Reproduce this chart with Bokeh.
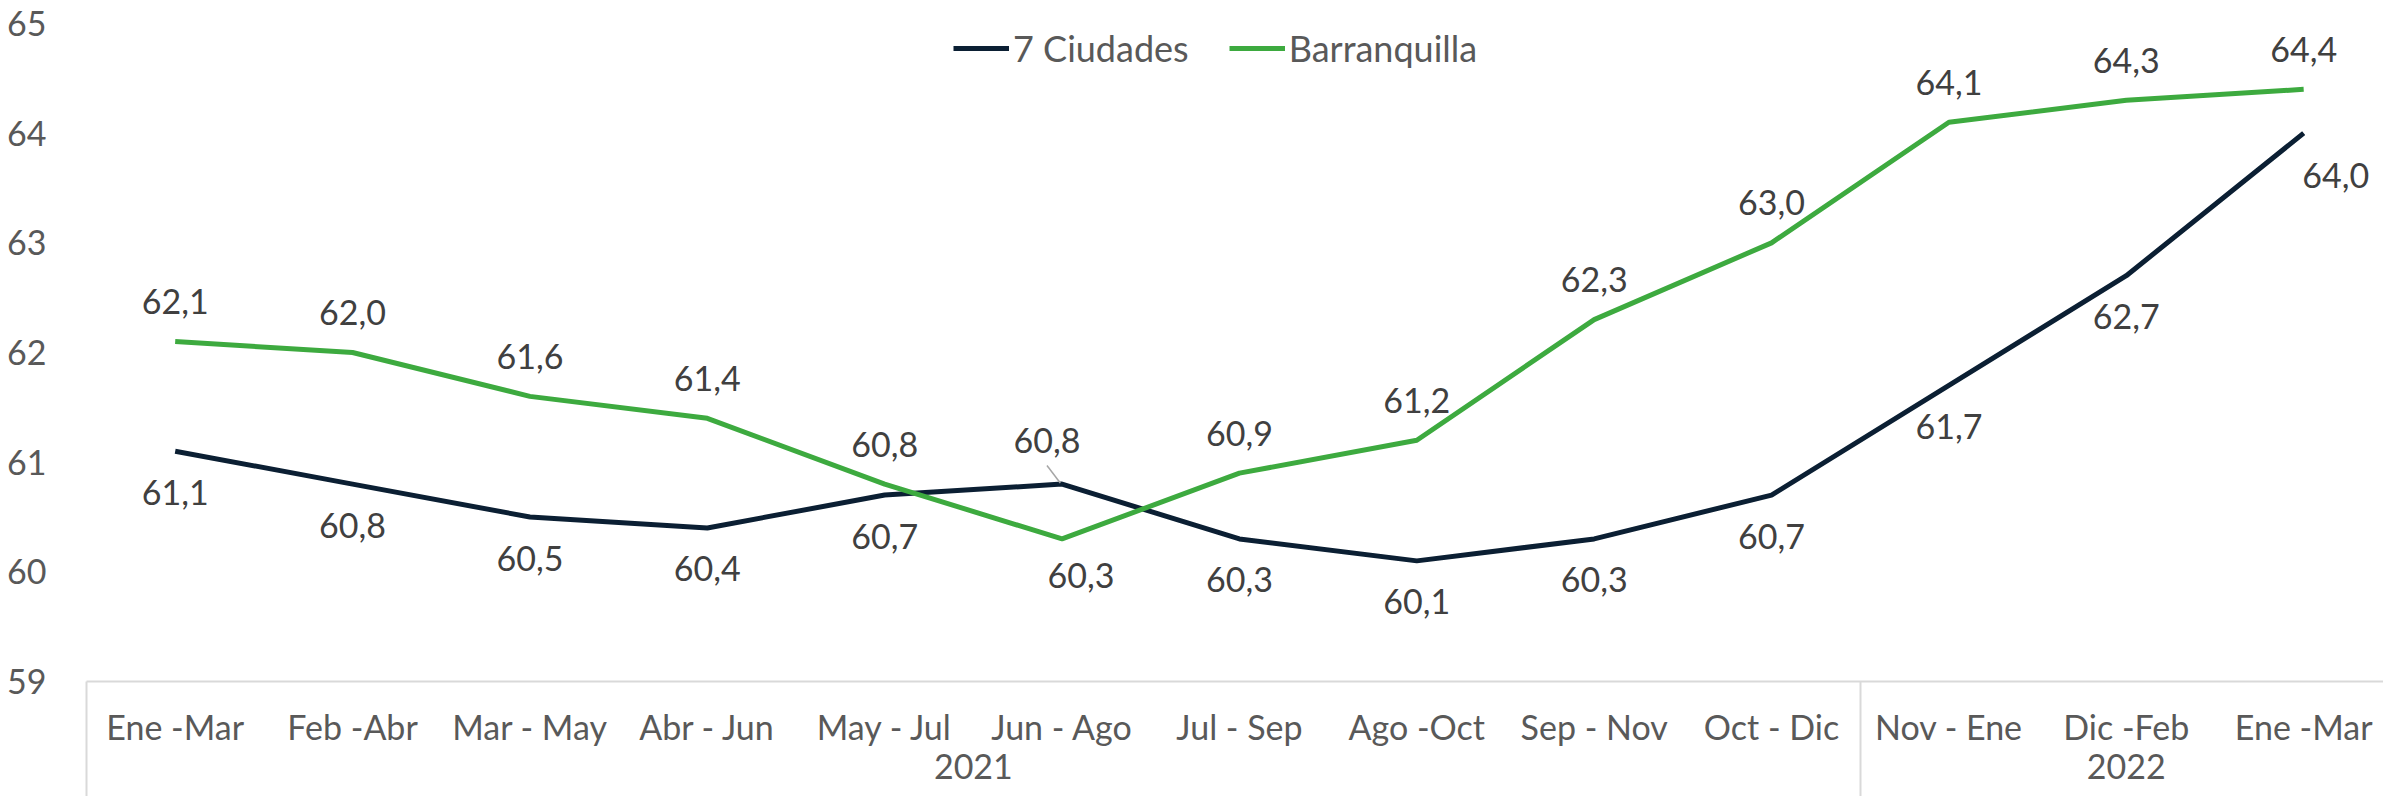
from bokeh.plotting import figure
from bokeh.models import (ColumnDataSource, Legend, LegendItem, FixedTicker, Range1d,
                          LinearAxis)
from bokeh.embed import file_html
from bokeh.resources import INLINE
from bokeh.core.properties import value

# ---- data ----
years = ["2021", "2022"]
year_sizes = [10, 3]
periods = ["Ene -Mar", "Feb -Abr", "Mar - May", "Abr - Jun", "May - Jul", "Jun - Ago",
           "Jul - Sep", "Ago -Oct", "Sep - Nov", "Oct - Dic", "Nov - Ene", "Dic -Feb", "Ene -Mar"]
siete_ciudades = [61.1, 60.8, 60.5, 60.4, 60.7, 60.8, 60.3, 60.1, 60.3, 60.7, 61.7, 62.7, 64.0]
barranquilla = [62.1, 62.0, 61.6, 61.4, 60.8, 60.3, 60.9, 61.2, 62.3, 63.0, 64.1, 64.3, 64.4]
y_ticks = [59, 60, 61, 62, 63, 64, 65]

# ---- style ----
FONT = "Lato"
DARK = "#0B1F33"
GREEN = "#3DAA3F"
TEXT = "#595959"
LABEL = "#404040"
AXIS = "#D9D9D9"
SEP_LEN = 120          # length of the group separators below the axis line (px)

idx = list(range(len(periods)))
# group boundaries and centres on the index scale
bounds, centres, start = [-0.5], [], 0
for n in year_sizes:
    centres.append(start + (n - 1) / 2)
    start += n
    bounds.append(start - 0.5)

# label placement (screen pixel offsets), per point
green_dx = [0] * 13
green_dy = [-40] * 13
green_dx[5], green_dy[5] = 19, 37
dark_dx = [0] * 13
dark_dy = [41] * 13
dark_dx[5], dark_dy[5] = -15, -44
dark_dx[12], dark_dy[12] = 32, 42

p = figure(width=2383, height=796, output_backend="svg", toolbar_location=None,
           x_range=Range1d(-0.5, len(periods) - 0.55),
           y_range=Range1d(y_ticks[0], y_ticks[-1]),
           min_border_left=86, min_border_right=0, min_border_top=23, min_border_bottom=115)
p.outline_line_color = None
p.xgrid.visible = False
p.ygrid.visible = False

r1 = p.line(x=idx, y=siete_ciudades, line_color=DARK, line_width=5)
r2 = p.line(x=idx, y=barranquilla, line_color=GREEN, line_width=5)

fmt = lambda v: f"{v:.1f}".replace(".", ",")
src_g = ColumnDataSource(dict(x=idx, y=barranquilla, t=[fmt(v) for v in barranquilla],
                              dx=green_dx, dy=green_dy))
src_d = ColumnDataSource(dict(x=idx, y=siete_ciudades, t=[fmt(v) for v in siete_ciudades],
                              dx=dark_dx, dy=dark_dy))
for s in (src_g, src_d):
    p.text(x="x", y="y", text="t", x_offset="dx", y_offset="dy", source=s,
           text_align="center", text_baseline="middle", text_font=value(FONT),
           text_font_size="34px", text_color=LABEL)

# leader line for the Jun - Ago label of 7 Ciudades
i = 5
p.segment(x0=[idx[i] - 0.085], y0=[siete_ciudades[i] + 0.17],
          x1=[idx[i] - 0.01], y1=[siete_ciudades[i] + 0.01],
          line_color="#A6A6A6", line_width=1.5)

# y axis
ya = p.yaxis[0]
ya.ticker = FixedTicker(ticks=y_ticks)
ya.axis_line_color = None
ya.major_tick_line_color = None
ya.minor_tick_line_color = None
ya.major_label_text_font = FONT
ya.major_label_text_font_size = "34px"
ya.major_label_text_color = TEXT
ya.major_label_standoff = 34

# x axis: periods, with group separators drawn as long minor ticks
xa = p.xaxis[0]
xa.ticker = FixedTicker(ticks=idx, minor_ticks=bounds[:-1])
xa.major_label_overrides = {i: lab for i, lab in zip(idx, periods)}
xa.axis_line_color = AXIS
xa.axis_line_width = 2
xa.major_tick_line_color = None
xa.major_tick_out = 0
xa.major_tick_in = 0
xa.minor_tick_line_color = AXIS
xa.minor_tick_line_width = 2
xa.minor_tick_in = 0
xa.minor_tick_out = SEP_LEN
xa.major_label_text_font = FONT
xa.major_label_text_font_size = "34px"
xa.major_label_text_color = TEXT
xa.major_label_standoff = 24 - SEP_LEN

# second axis: years
ya2 = LinearAxis(ticker=FixedTicker(ticks=centres, minor_ticks=[]),
                 major_label_overrides={c: y for c, y in zip(centres, years)})
ya2.axis_line_color = None
ya2.major_tick_line_color = None
ya2.minor_tick_line_color = None
ya2.major_tick_out = 0
ya2.major_tick_in = 0
ya2.major_label_text_font = FONT
ya2.major_label_text_font_size = "34px"
ya2.major_label_text_color = TEXT
ya2.major_label_standoff = 4
p.add_layout(ya2, "below")

legend = Legend(items=[LegendItem(label="7 Ciudades", renderers=[r1]),
                       LegendItem(label="Barranquilla", renderers=[r2])],
                orientation="horizontal", location=(867, 611),
                border_line_color=None, background_fill_alpha=0,
                padding=0, margin=0, spacing=40, glyph_width=56, label_standoff=4,
                label_text_font=FONT, label_text_font_size="36px", label_text_color=TEXT)
p.add_layout(legend)

open("out.html", "w").write(file_html(p, INLINE))
